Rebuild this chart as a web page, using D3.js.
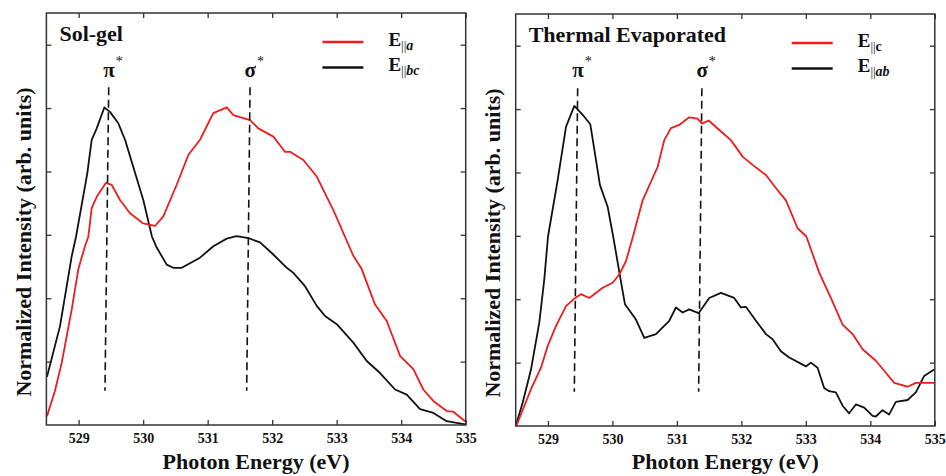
<!DOCTYPE html>
<html>
<head>
<meta charset="utf-8">
<script src="https://cdn.jsdelivr.net/npm/d3@7"></script>
<style>
  html, body { margin: 0; padding: 0; background: #fff; }
  svg { display: block; }
  text { font-family: "Liberation Serif", "Times New Roman", serif; fill: #111; }
</style>
</head>
<body>
<svg id="chart" width="946" height="476"></svg>
<script>
// ---------- data ----------
const energyTicks = [529, 530, 531, 532, 533, 534, 535];
const intensityTicks = [1, 2, 3, 4, 5, 6];
const energyDomain = [528.5, 535];
const intensityDomain = [0, 6.5];

const panelTitles = ["Sol-gel", "Thermal Evaporated"];
const xAxisLabel = "Photon Energy (eV)";
const yAxisLabel = "Normalized Intensity (arb. units)";

// Sol-gel, E || a (red)
const solgelA = [
  [528.509,0.14],[528.633,0.54],[528.737,0.98],[528.892,1.82],[528.995,2.46],[529.098,2.82],
  [529.150,2.97],[529.202,3.42],[529.280,3.60],[529.424,3.82],[529.512,3.79],[529.641,3.55],
  [529.796,3.34],[530.002,3.18],[530.184,3.14],[530.312,3.29],[530.520,3.79],[530.700,4.26],
  [530.881,4.50],[531.088,4.92],[531.295,5.01],[531.398,4.89],[531.657,4.81],[531.785,4.68],
  [532.018,4.55],[532.199,4.31],[532.277,4.31],[532.483,4.18],[532.691,3.92],[532.948,3.39],
  [533.129,2.97],[533.258,2.67],[533.388,2.46],[533.595,1.90],[533.776,1.64],[533.982,1.09],
  [534.188,0.88],[534.343,0.56],[534.498,0.38],[534.706,0.22],[534.808,0.21],[534.990,0.06]
];
// Sol-gel, E || bc (black)
const solgelBC = [
  [528.509,0.76],[528.711,1.56],[528.892,2.66],[528.959,2.97],[529.134,3.97],[529.202,4.50],
  [529.280,4.68],[529.398,5.01],[529.486,4.94],[529.615,4.76],[529.719,4.50],[529.847,4.07],
  [530.002,3.55],[530.137,2.97],[530.210,2.80],[530.365,2.53],[530.467,2.48],[530.598,2.48],
  [530.881,2.64],[531.088,2.82],[531.295,2.94],[531.450,2.98],[531.630,2.95],[531.812,2.88],
  [532.018,2.69],[532.226,2.48],[532.328,2.40],[532.509,2.19],[532.691,1.88],[532.819,1.72],
  [533.001,1.59],[533.258,1.30],[533.466,1.01],[533.672,0.82],[533.905,0.56],[534.086,0.48],
  [534.292,0.25],[534.499,0.19],[534.706,0.06],[534.990,0.01]
];
// Thermal evaporated, E || c (red)
const thermalC = [
  [528.509,0.00],[528.737,0.58],[528.892,0.92],[528.996,1.26],[529.125,1.58],[529.280,1.89],
  [529.409,2.01],[529.512,2.08],[529.641,2.02],[529.849,2.18],[530.004,2.26],[530.106,2.39],
  [530.210,2.60],[530.319,2.99],[530.469,3.56],[530.702,4.09],[530.804,4.51],[530.908,4.70],
  [531.036,4.75],[531.191,4.87],[531.322,4.85],[531.388,4.77],[531.492,4.82],[531.657,4.67],
  [531.838,4.51],[532.019,4.25],[532.174,4.12],[532.381,3.96],[532.562,3.72],[532.691,3.56],
  [532.872,3.12],[533.008,2.99],[533.207,2.42],[533.388,2.02],[533.570,1.60],[533.725,1.45],
  [533.880,1.21],[534.086,1.03],[534.241,0.84],[534.370,0.68],[534.578,0.62],[534.706,0.68],
  [534.990,0.68]
];
// Thermal evaporated, E || ab (black)
const thermalAB = [
  [528.509,0.03],[528.609,0.37],[528.737,0.89],[528.866,1.63],[528.943,2.31],[529.001,2.99],
  [529.151,3.88],[529.280,4.72],[529.409,5.05],[529.539,4.91],[529.657,4.76],[529.807,3.80],
  [529.926,3.46],[530.012,2.99],[530.117,2.37],[530.195,1.92],[530.365,1.68],[530.494,1.39],
  [530.675,1.45],[530.881,1.66],[530.985,1.87],[531.089,1.79],[531.191,1.84],[531.337,1.78],
  [531.399,1.87],[531.502,2.02],[531.683,2.10],[531.889,2.02],[531.993,1.87],[532.070,1.88],
  [532.226,1.66],[532.381,1.45],[532.484,1.37],[532.613,1.18],[532.742,1.08],[533.001,0.94],
  [533.078,1.00],[533.182,0.92],[533.284,0.60],[533.362,0.55],[533.466,0.53],[533.570,0.32],
  [533.671,0.20],[533.776,0.34],[533.905,0.29],[534.035,0.16],[534.086,0.15],[534.189,0.25],
  [534.291,0.18],[534.396,0.38],[534.578,0.41],[534.706,0.53],[534.835,0.79],[534.990,0.89]
];

// peak markers: [energy at top, energy at bottom]
const solgelPeaks = [["π", 529.466, 529.408], ["σ", 531.657, 531.605]];
const thermalPeaks = [["π", 529.461, 529.409], ["σ", 531.388, 531.337]];
const peakSpan = [5.33, 0.54];

const legendSolgel = [["a", true], ["bc", true]];
const legendThermal = [["c", false], ["ab", true]];

const redColor = "#ee1c1c";
const blackColor = "#111111";

// ---------- drawing ----------
const svg = d3.select("#chart");

const panels = [
  { box: { left: 46.4, right: 465.7, top: 13, bottom: 425 },
    title: panelTitles[0], red: solgelA, black: solgelBC, peaks: solgelPeaks, legend: legendSolgel },
  { box: { left: 515.7, right: 934.8, top: 14, bottom: 426 },
    title: panelTitles[1], red: thermalC, black: thermalAB, peaks: thermalPeaks, legend: legendThermal }
];

panels.forEach(p => {
  const b = p.box;
  const x = d3.scaleLinear().domain(energyDomain).range([b.left, b.right]);
  const y = d3.scaleLinear().domain(intensityDomain).range([b.bottom, b.top]);
  const g = svg.append("g");

  // axes with inward ticks
  const axisStyle = sel => {
    sel.select(".domain").remove();
    sel.selectAll(".tick line").attr("stroke", "#333").attr("stroke-width", 1.3);
  };
  g.append("g").attr("transform", `translate(0,${b.bottom})`)
    .call(d3.axisBottom(x).tickValues(energyTicks).tickSize(-5).tickPadding(8).tickFormat(d3.format("d")))
    .call(axisStyle)
    .call(sel => sel.selectAll(".tick text")
      .attr("font-family", "Liberation Serif, serif").attr("font-size", 14).attr("font-weight", "bold")
      .attr("fill", "#222"));
  g.append("g").attr("transform", `translate(0,${b.top})`)
    .call(d3.axisTop(x).tickValues(energyTicks).tickSize(-5).tickFormat(""))
    .call(axisStyle);
  g.append("g").attr("transform", `translate(${b.left},0)`)
    .call(d3.axisLeft(y).tickValues(intensityTicks).tickSize(-5).tickFormat(""))
    .call(axisStyle);
  g.append("g").attr("transform", `translate(${b.right},0)`)
    .call(d3.axisRight(y).tickValues(intensityTicks).tickSize(-5).tickFormat(""))
    .call(axisStyle);

  // clip
  const clipId = "clip" + Math.round(b.left);
  svg.append("clipPath").attr("id", clipId).append("rect")
    .attr("x", b.left).attr("y", b.top).attr("width", b.right - b.left).attr("height", b.bottom - b.top);

  const line = d3.line().x(d => x(d[0])).y(d => y(d[1]));
  const curves = g.append("g").attr("clip-path", `url(#${clipId})`);
  curves.append("path").datum(p.black).attr("d", line)
    .attr("fill", "none").attr("stroke", blackColor).attr("stroke-width", 1.8).attr("stroke-linejoin", "round");
  curves.append("path").datum(p.red).attr("d", line)
    .attr("fill", "none").attr("stroke", redColor).attr("stroke-width", 1.8).attr("stroke-linejoin", "round");

  // peak markers
  p.peaks.forEach(([sym, eTop, eBot]) => {
    g.append("line")
      .attr("x1", x(eTop)).attr("y1", y(peakSpan[0]))
      .attr("x2", x(eBot)).attr("y2", y(peakSpan[1]))
      .attr("stroke", "#111").attr("stroke-width", 1.6).attr("stroke-dasharray", "8,4.5");
    const t = g.append("text").attr("x", x(eTop) - 5.5).attr("y", 77)
      .attr("font-size", 21).attr("font-weight", "bold");
    t.append("tspan").text(sym);
    t.append("tspan").attr("dy", -11).attr("dx", 1).attr("font-size", 14).attr("font-weight", "normal").text("*");
  });

  // frame
  g.append("rect").attr("x", b.left).attr("y", b.top)
    .attr("width", b.right - b.left).attr("height", b.bottom - b.top)
    .attr("fill", "none").attr("stroke", "#333").attr("stroke-width", 1.5);

  // title
  g.append("text").attr("x", b.left + 13).attr("y", b.top + 27.5)
    .attr("font-size", 22).attr("font-weight", "bold").text(p.title);

  // legend
  const colors = [redColor, blackColor];
  p.legend.forEach(([sub, italic], i) => {
    const ly = b.top + 29 + i * 25.5;
    g.append("line").attr("x1", b.left + 276).attr("x2", b.left + 317)
      .attr("y1", ly).attr("y2", ly).attr("stroke", colors[i]).attr("stroke-width", 2.6);
    const t = g.append("text").attr("x", b.left + 342).attr("y", ly + 3.5)
      .attr("font-size", 19).attr("font-weight", "bold");
    t.append("tspan").text("E");
    t.append("tspan").attr("dy", 4).attr("font-size", 13).attr("font-weight", "normal").text("||");
    t.append("tspan").attr("font-size", 14).attr("font-style", italic ? "italic" : "normal")
      .attr("font-weight", "bold").text(sub);
  });

  // axis labels
  g.append("text").attr("x", (b.left + b.right) / 2).attr("y", 469)
    .attr("text-anchor", "middle").attr("font-size", 22).attr("font-weight", "bold").text(xAxisLabel);
  const yl = b.left - 15.5;
  g.append("text").attr("transform", `translate(${yl},${(b.top + b.bottom) / 2 + 23}) rotate(-90)`)
    .attr("text-anchor", "middle").attr("font-size", 22).attr("font-weight", "bold").text(yAxisLabel);
});
</script>
</body>
</html>
